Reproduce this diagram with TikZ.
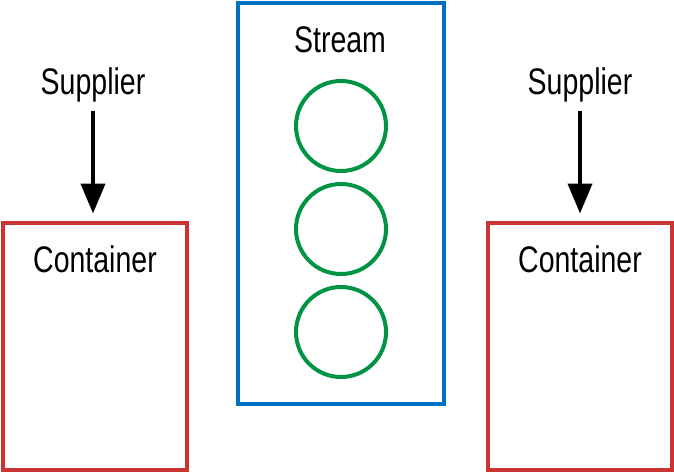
\documentclass[tikz,border=0pt]{standalone}
\usepackage{fontspec}
\setmainfont{Liberation Sans}[FakeStretch=0.77]
\usetikzlibrary{arrows.meta}
\definecolor{cred}{HTML}{CC3333}
\definecolor{cblue}{HTML}{0070C0}
\definecolor{cgreen}{HTML}{009444}
\begin{document}
\begin{tikzpicture}[x=1pt,y=-1pt,
  lbl/.style={font=\fontsize{37}{40}\selectfont, inner sep=0pt},
  contbox/.style={draw=cred, line width=4pt, minimum width=184pt, minimum height=247pt, inner sep=0pt},
  streambox/.style={draw=cblue, line width=4pt, minimum width=206pt, minimum height=401pt, inner sep=0pt},
  item/.style={draw=cgreen, line width=4pt, circle, minimum size=90pt, inner sep=0pt},
  supply/.style={line width=4pt, shorten >=7pt, -{Triangle[width=24pt,length=30pt]}}]
\useasboundingbox (0,0) rectangle (674,472);
\node[contbox] (c1) at (94.5,346) {};
\node[contbox] (c2) at (579.5,346) {};
\node[streambox] (s) at (340.5,203) {};
\node[lbl] (st) at (340,40) {Stream};
\node[item] (i1) at (341,126) {};
\node[item] (i2) at (341,229) {};
\node[item] (i3) at (341,332) {};
\node[lbl] (s1) at (93,85) {Supplier};
\node[lbl] (s2) at (580,85) {Supplier};
\node[lbl] (t1) at (95,259) {Container};
\node[lbl] (t2) at (580,259) {Container};
\coordinate (a1) at (93,111);
\coordinate (a2) at (580,111);
\draw[supply] (a1) -- (c1.north -| a1);
\draw[supply] (a2) -- (c2.north -| a2);
\end{tikzpicture}
\end{document}
